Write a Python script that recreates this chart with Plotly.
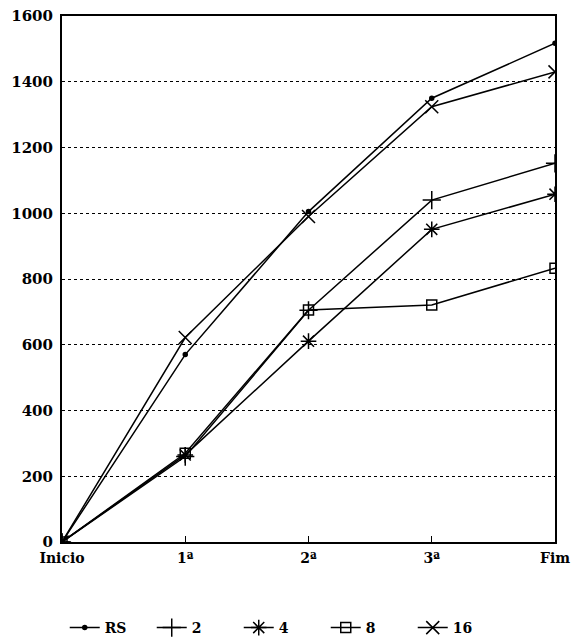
import plotly.graph_objects as go

categories = ["Inicio", "1ª", "2ª", "3ª", "Fim"]
series_names = ["RS", "2", "4", "8", "16"]
rs = [0, 570, 1005, 1350, 1517]
s2 = [0, 260, 705, 1040, 1152]
s4 = [0, 265, 611, 951, 1058]
s8 = [0, 270, 706, 721, 833]
s16 = [0, 622, 990, 1324, 1430]
y_ticks = [0, 200, 400, 600, 800, 1000, 1200, 1400, 1600]

FONT = "DejaVu Serif"
values = [rs, s2, s4, s8, s16]
symbols = ["circle", "cross-thin-open", "asterisk-open", "square-open", "x-thin-open"]
sizes = [4, 13, 13, 10, 13]

fig = go.Figure()
for name, vals, sym, sz in zip(series_names, values, symbols, sizes):
    fig.add_trace(go.Scatter(
        x=categories, y=vals, name=name, mode="lines+markers",
        line=dict(color="black", width=1.5),
        marker=dict(symbol=sym, size=sz, color="black",
                    line=dict(color="black", width=1.5)),
    ))

fig.update_layout(
    width=576, height=644,
    margin=dict(l=62, r=21, t=16, b=102, autoexpand=False),
    paper_bgcolor="white", plot_bgcolor="white",
    font=dict(family=FONT, color="black", size=14),
    showlegend=True,
    legend=dict(orientation="h", xref="container", yref="container",
                x=0.49, xanchor="center", y=1 - 628 / 644, yanchor="middle",
                font=dict(family=FONT, size=14, weight="bold"),
                entrywidth=42, tracegroupgap=0),
    xaxis=dict(type="category", range=[0, 4], showgrid=False, showline=True,
               linecolor="black", linewidth=2, mirror=True,
               ticks="inside", ticklen=6, tickcolor="black", ticklabelstandoff=2,
               tickfont=dict(family=FONT, size=14, weight="bold"), zeroline=False),
    yaxis=dict(range=[0, 1600], tickvals=y_ticks, showgrid=True, gridcolor="black",
               griddash="dot", gridwidth=1, showline=True, linecolor="black",
               linewidth=2, mirror=True, ticks="", zeroline=False, ticklabelstandoff=4,
               tickfont=dict(family=FONT, size=15, weight="bold")),
)

fig.write_html("out.html")
